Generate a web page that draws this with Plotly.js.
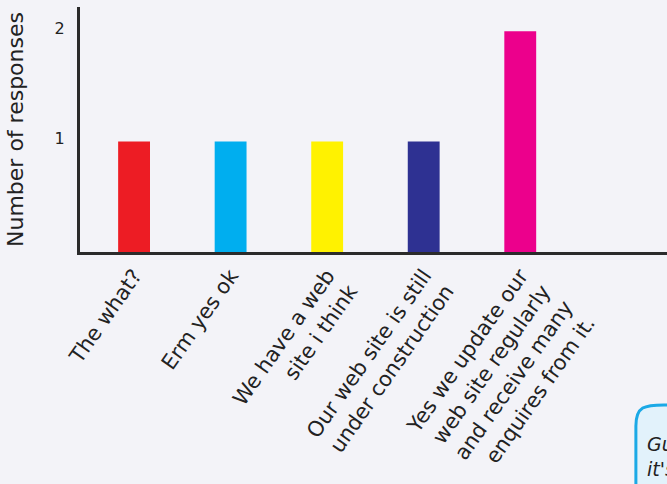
<!DOCTYPE html>
<html>
<head>
<meta charset="utf-8">
<script src="https://cdn.plot.ly/plotly-3.0.1.min.js"></script>
<style>html,body{margin:0;padding:0;background:#f3f3f8;}#chart{width:667px;height:484px;}</style>
</head>
<body>
<div id="chart"></div>
<script>
const categories = [
  "The what?",
  "Erm yes ok",
  "We have a web<br>site i think",
  "Our web site is still<br>under construction",
  "Yes we update our<br>web site regularly<br>and receive many<br>enquires from it."
];
const responses = [1, 1, 1, 1, 2];
const barColors = ["#ed1c24", "#00aeef", "#fff200", "#2e3192", "#ec008c"];
const yTickVals = [1, 2];
const yTickText = ["1", "2"];

const FONT = "'DejaVu Sans', sans-serif";

const trace = {
  type: "bar",
  x: categories,
  y: responses,
  marker: {color: barColors, line: {width: 0}},
  width: 0.33,
  hoverinfo: "none"
};

const layout = {
  width: 667, height: 484,
  margin: {l: 80, r: 0, t: 7, b: 232},
  paper_bgcolor: "#f3f3f8",
  plot_bgcolor: "#f3f3f8",
  showlegend: false,
  font: {family: FONT, color: "#222"},
  xaxis: {
    type: "category",
    range: [-0.56, 5.52],
    showline: true, linecolor: "#2b2b2b", linewidth: 3,
    showgrid: false, zeroline: false,
    ticks: "",
    tickangle: -55,
    tickfont: {size: 21, family: FONT, color: "#222"}
  },
  yaxis: {
    range: [0, 2.219],
    showline: true, linecolor: "#2b2b2b", linewidth: 3,
    showgrid: false, zeroline: false,
    ticks: "",
    tickvals: yTickVals, ticktext: yTickText,
    ticklabelstandoff: 9,
    ticklabelshift: -3,
    tickfont: {size: 16, family: FONT, color: "#222"},
    title: {text: "Number of responses", font: {size: 22, family: FONT, color: "#222"}, standoff: 25}
  },
  shapes: [{
    type: "path",
    xref: "paper", yref: "paper",
    path: "M 0.947,-0.71 C 0.947,-0.63 0.962,-0.624 0.995,-0.624 L 1.2,-0.624 L 1.2,-1.0 L 0.947,-1.0 Z",
    fillcolor: "#e2f2fb",
    line: {color: "#1ba9e6", width: 3}
  }],
  annotations: [{
    xref: "paper", yref: "paper",
    x: 0.962, y: -0.73,
    xanchor: "left", yanchor: "top",
    align: "left",
    showarrow: false,
    text: "<i>Gu</i><br><i>it's</i>",
    font: {size: 19, family: FONT, color: "#222"}
  }]
};

Plotly.newPlot("chart", [trace], layout, {displayModeBar: false, staticPlot: true});
</script>
</body>
</html>
